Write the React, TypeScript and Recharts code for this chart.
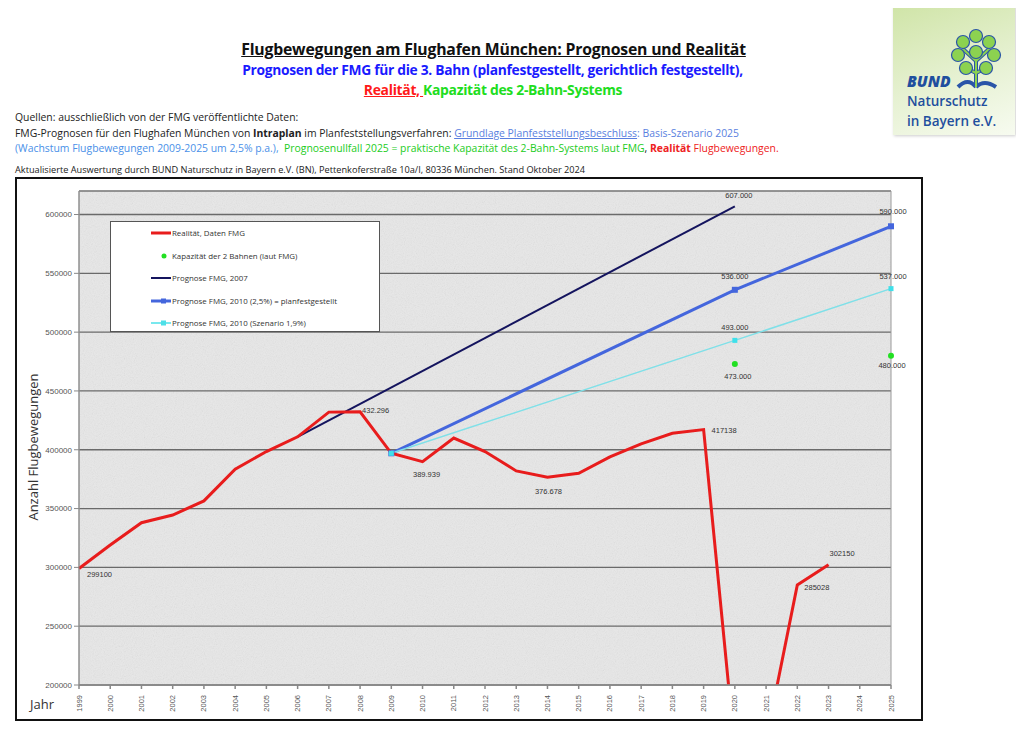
import React from "react";
import {
  LineChart,
  Line,
  XAxis,
  YAxis,
  CartesianGrid,
  Legend,
  LabelList,
  ReferenceArea,
} from "recharts";

// Jahre 1999-2025
const years = [
  1999, 2000, 2001, 2002, 2003, 2004, 2005, 2006, 2007, 2008, 2009, 2010, 2011,
  2012, 2013, 2014, 2015, 2016, 2017, 2018, 2019, 2020, 2021, 2022, 2023, 2024, 2025,
];

// Realität, Daten FMG (2020/2021 liegen unter der Achse)
const realitaet = [
  299100, 319000, 338000, 344500, 356500, 383500, 398500, 411000, 432000, 432296,
  397000, 389939, 410000, 398500, 382000, 376678, 380000, 394000, 405000, 414000,
  417138, 145000, 153000, 285028, 302150, null, null,
];

const prognose2007Years = [2006, 2020];
const prognose2007 = [411000, 607000];

const prognose25Years = [2009, 2020, 2025];
const prognose25 = [397000, 536000, 590000];

const prognose19Years = [2009, 2020, 2025];
const prognose19 = [397000, 493000, 537000];

const kapazitaetYears = [2020, 2025];
const kapazitaet = [473000, 480000];

const yTicks = [200000, 250000, 300000, 350000, 400000, 450000, 500000, 550000, 600000];

// Beschriftungen an den Punkten
const realitaetLabels: Record<number, string> = {
  1999: "299100",
  2008: "432.296",
  2010: "389.939",
  2014: "376.678",
  2019: "417138",
  2022: "285028",
  2023: "302150",
};
const prognose2007Labels: Record<number, string> = { 2020: "607.000" };
const prognose25Labels: Record<number, string> = { 2020: "536.000", 2025: "590.000" };
const prognose19Labels: Record<number, string> = { 2020: "493.000", 2025: "537.000" };
const kapazitaetLabels: Record<number, string> = { 2020: "473.000", 2025: "480.000" };

const pick = (ys: number[], vals: number[], y: number) => {
  const i = ys.indexOf(y);
  return i >= 0 ? vals[i] : null;
};

const data = years.map((year, i) => ({
  year,
  realitaet: realitaet[i],
  p2007: pick(prognose2007Years, prognose2007, year),
  p25: pick(prognose25Years, prognose25, year),
  p19: pick(prognose19Years, prognose19, year),
  kap: pick(kapazitaetYears, kapazitaet, year),
}));

// Position der Werte relativ zum Punkt: [dx, dy, anchor]
const labelPos: Record<string, [number, number, string]> = {
  "realitaet-1999": [8, 6, "start"],
  "realitaet-2008": [2, -1, "start"],
  "realitaet-2010": [4, 13, "middle"],
  "realitaet-2014": [1, 14, "middle"],
  "realitaet-2019": [8, 1, "start"],
  "realitaet-2022": [7, 3, "start"],
  "realitaet-2023": [1, -11, "start"],
  "p2007-2020": [4, -11, "middle"],
  "p25-2020": [0, -13, "middle"],
  "p25-2025": [2, -15, "middle"],
  "p19-2020": [0, -13, "middle"],
  "p19-2025": [2, -12, "middle"],
  "kap-2020": [3, 13, "middle"],
  "kap-2025": [1, 10, "middle"],
};

const makeLabel = (key: string, texts: Record<number, string>) => (props: any) => {
  const { x, y, index } = props;
  const year = years[index];
  const text = texts[year];
  if (!text || x == null || y == null) return <g />;
  const [dx, dy, anchor] = labelPos[`${key}-${year}`] || [0, -8, "middle"];
  return (
    <text
      x={x + dx}
      y={y + dy}
      textAnchor={anchor as any}
      dominantBaseline="central"
      fontSize={7.5}
      fontFamily="Liberation Sans"
      fill="#333"
    >
      {text}
    </text>
  );
};

const squareDot = (color: string, size: number) => (props: any) => {
  const { cx, cy, index } = props;
  if (cx == null || cy == null || props.value == null) return <g key={index} />;
  return (
    <rect
      key={index}
      x={cx - size / 2}
      y={cy - size / 2}
      width={size}
      height={size}
      fill={color}
    />
  );
};

const roundDot = (color: string, r: number) => (props: any) => {
  const { cx, cy, index } = props;
  if (cx == null || cy == null || props.value == null) return <g key={index} />;
  return <circle key={index} cx={cx} cy={cy} r={r} fill={color} />;
};

const YearTick = (props: any) => {
  const { x, y, payload } = props;
  return (
    <text
      x={x}
      y={y + 4}
      transform={`rotate(-90 ${x} ${y + 4})`}
      textAnchor="end"
      dominantBaseline="central"
      fontSize={7.5}
      fontFamily="Liberation Sans"
      fill="#555"
    >
      {payload.value}
    </text>
  );
};

const legendItems = [
  { text: "Realität, Daten FMG", color: "#e81c1c", width: 3, marker: "none" },
  { text: "Kapazität der 2 Bahnen (laut FMG)", color: "#22e022", width: 0, marker: "dot" },
  { text: "Prognose FMG, 2007", color: "#14145e", width: 2, marker: "none" },
  { text: "Prognose FMG, 2010 (2,5%) = planfestgestellt", color: "#4466dd", width: 3, marker: "square" },
  { text: "Prognose FMG, 2010 (Szenario 1,9%)", color: "#4de0e8", width: 1.5, marker: "square" },
];

function ChartLegend() {
  return (
    <div
      style={{
        width: 270,
        height: 111,
        boxSizing: "border-box",
        background: "#fff",
        border: "1px solid #555",
        position: "relative",
        fontFamily: "Open Sans",
        fontSize: 7.9,
        color: "#333",
      }}
    >
      {legendItems.map((it, i) => (
        <div
          key={it.text}
          style={{
            position: "absolute",
            left: 39,
            top: 5 + i * 22.5,
            height: 12,
            display: "flex",
            alignItems: "center",
          }}
        >
          <svg width={22} height={12}>
            {it.width > 0 && (
              <line x1={1} x2={21} y1={6} y2={6} stroke={it.color} strokeWidth={it.width} />
            )}
            {it.marker === "dot" && <circle cx={14} cy={6} r={2.5} fill={it.color} />}
            {it.marker === "square" && <rect x={11} y={3.5} width={5} height={5} fill={it.color} />}
          </svg>
          <span style={{ whiteSpace: "nowrap" }}>{it.text}</span>
        </div>
      ))}
    </div>
  );
}

function Logo() {
  const leaves = [
    [30, 9], [17, 15], [43, 15], [12, 28], [48, 28], [20, 41], [40, 41], [30, 25],
  ];
  return (
    <div
      style={{
        position: "absolute",
        left: 893,
        top: 3,
        width: 122,
        height: 132,
        background: "linear-gradient(160deg, #cfe4a6 0%, #e6f1d2 55%, #f7fbf0 100%)",
        boxShadow: "1px 1px 3px #ccc",
      }}
    >
      <svg width={62} height={64} style={{ position: "absolute", left: 53, top: 24 }}>
        <path d="M30 60 L30 20 M30 34 L17 22 M30 34 L43 22 M30 46 L20 41 M30 46 L40 41 M30 60 Q22 50 12 60 M30 60 Q38 52 50 60"
          stroke="#2a55a8" strokeWidth={4} fill="none" />
        <path d="M30 60 L30 20 M30 34 L17 22 M30 34 L43 22 M30 46 L20 41 M30 46 L40 41"
          stroke="#8cd250" strokeWidth={2} fill="none" />
        {leaves.map(([x, y], i) => (
          <circle key={i} cx={x} cy={y} r={6.5} fill="#8cd250" stroke="#2a55a8" strokeWidth={1.2} />
        ))}
      </svg>
      <div style={{ position: "absolute", left: 14, top: 68, fontFamily: "Open Sans", color: "#1f4f9e" }}>
        <div style={{ fontSize: 15.5, fontWeight: 800, fontStyle: "italic", lineHeight: "20px", height: 20 }}>BUND</div>
        <div style={{ fontSize: 13.5, fontWeight: 600, lineHeight: "20px", height: 20 }}>Naturschutz</div>
        <div style={{ fontSize: 13.5, fontWeight: 600, lineHeight: "20px", height: 20 }}>in Bayern e.V.</div>
      </div>
    </div>
  );
}

export default function App() {
  const srcStyle: React.CSSProperties = {
    position: "absolute",
    left: 15,
    fontFamily: "Open Sans",
    fontSize: 10.4,
    whiteSpace: "nowrap",
    color: "#222",
  };
  return (
    <div
      style={{
        position: "relative",
        width: 1024,
        height: 736,
        margin: -8,
        background: "#fff",
        overflow: "hidden",
        fontFamily: "Open Sans",
      }}
    >
      <div style={{ position: "absolute", left: 0, width: 987, top: 38, textAlign: "center", fontSize: 15.8, fontWeight: 700, color: "#111", textDecoration: "underline", letterSpacing: -0.2 }}>
        Flugbewegungen am Flughafen München: Prognosen und Realität
      </div>
      <div style={{ position: "absolute", left: 0, width: 985, top: 60, textAlign: "center", fontSize: 13.8, fontWeight: 700, color: "#1a1aff", letterSpacing: -0.3 }}>
        Prognosen der FMG für die 3. Bahn (planfestgestellt, gerichtlich festgestellt),
      </div>
      <div style={{ position: "absolute", left: 0, width: 986, top: 80, textAlign: "center", fontSize: 13.9, fontWeight: 700, letterSpacing: -0.3 }}>
        <span style={{ color: "#ff1a1a", textDecoration: "underline" }}>Realität, </span>
        <span style={{ color: "#20dd20" }}> Kapazität des 2-Bahn-Systems</span>
      </div>

      <div style={{ ...srcStyle, top: 110 }}>Quellen: ausschließlich von der FMG veröffentlichte Daten:</div>
      <div style={{ ...srcStyle, top: 126 }}>
        FMG-Prognosen für den Flughafen München von <b>Intraplan</b> im Planfeststellungsverfahren:{" "}
        <span style={{ color: "#5a7fe0", textDecoration: "underline" }}>Grundlage Planfeststellungsbeschluss</span>
        <span style={{ color: "#5a7fe0" }}>: Basis-Szenario 2025</span>
      </div>
      <div style={{ ...srcStyle, top: 141 }}>
        <span style={{ color: "#4a90e8" }}>(Wachstum Flugbewegungen 2009-2025 um 2,5% p.a.),</span>
        <span style={{ color: "#22cc22", whiteSpace: "pre" }}>{"  "}Prognosenullfall 2025 = praktische Kapazität des 2-Bahn-Systems laut FMG</span>
        <span style={{ color: "#111" }}>, </span>
        <span style={{ color: "#ee2222" }}><b>Realität</b> Flugbewegungen.</span>
      </div>
      <div style={{ ...srcStyle, top: 163, fontSize: 9.2 }}>
        Aktualisierte Auswertung durch BUND Naturschutz in Bayern e.V. (BN), Pettenkoferstraße 10a/I, 80336 München. Stand Oktober 2024
      </div>

      <Logo />

      {/* Rahmen */}
      <div style={{ position: "absolute", left: 15, top: 177, width: 908, height: 544, boxSizing: "border-box", border: "2px solid #111" }} />

      {/* Plot-Hintergrund mit Körnung */}
      <svg width={812} height={494} style={{ position: "absolute", left: 79, top: 191 }}>
        <filter id="grain">
          <feTurbulence type="fractalNoise" baseFrequency="0.9" numOctaves={2} stitchTiles="stitch" />
          <feColorMatrix type="saturate" values="0" />
        </filter>
        <rect width={812} height={494} fill="#e8e8e8" />
        <rect width={812} height={494} filter="url(#grain)" opacity={0.18} />
      </svg>

      <div style={{ position: "absolute", left: 15, top: 177 }}>
        <LineChart
          width={908}
          height={544}
          data={data}
          margin={{ top: 14, right: 32, bottom: 0, left: 0 }}
        >
          <CartesianGrid vertical={false} stroke="#6a6a6a" strokeWidth={1.3} />
          <ReferenceArea x1={1999} x2={2025} y1={200000} y2={620000} fill="none" stroke="#9a9a9a" strokeWidth={1} />
          <XAxis
            dataKey="year"
            type="number"
            domain={[1999, 2025]}
            ticks={years}
            interval={0}
            tick={<YearTick />}
            tickSize={4}
            height={36}
            stroke="#888"
            strokeWidth={1.5}
          />
          <YAxis
            type="number"
            domain={[200000, 620000]}
            ticks={yTicks}
            allowDataOverflow
            width={64}
            tickSize={5}
            stroke="#888"
            tick={{ fontSize: 8, fill: "#555", fontFamily: "Liberation Sans" }}
          />
          <Legend
            layout="vertical"
            align="center"
            verticalAlign="middle"
            content={() => <ChartLegend />}
            wrapperStyle={{ left: 95, top: 44, width: 270, height: 111 }}
          />
          <Line
            dataKey="p2007"
            stroke="#14145e"
            strokeWidth={2}
            dot={false}
            connectNulls
            isAnimationActive={false}
          >
            <LabelList dataKey="p2007" content={makeLabel("p2007", prognose2007Labels)} />
          </Line>
          <Line
            dataKey="p25"
            stroke="#4466dd"
            strokeWidth={3}
            dot={squareDot("#4466dd", 6)}
            connectNulls
            isAnimationActive={false}
          >
            <LabelList dataKey="p25" content={makeLabel("p25", prognose25Labels)} />
          </Line>
          <Line
            dataKey="p19"
            stroke="#7fe0e8"
            strokeWidth={1.5}
            dot={squareDot("#3fe0ea", 5)}
            connectNulls
            isAnimationActive={false}
          >
            <LabelList dataKey="p19" content={makeLabel("p19", prognose19Labels)} />
          </Line>
          <Line
            dataKey="realitaet"
            stroke="#e81c1c"
            strokeWidth={3}
            dot={false}
            isAnimationActive={false}
          >
            <LabelList dataKey="realitaet" content={makeLabel("realitaet", realitaetLabels)} />
          </Line>
          <Line
            dataKey="kap"
            stroke="none"
            dot={roundDot("#22e022", 3)}
            isAnimationActive={false}
          >
            <LabelList dataKey="kap" content={makeLabel("kap", kapazitaetLabels)} />
          </Line>
        </LineChart>
      </div>

      <div
        style={{
          position: "absolute",
          left: 33,
          top: 447,
          transform: "translate(-50%, -50%) rotate(-90deg)",
          fontSize: 13,
          color: "#333",
          whiteSpace: "nowrap",
          fontFamily: "Open Sans",
        }}
      >
        Anzahl Flugbewegungen
      </div>
      <div style={{ position: "absolute", left: 30, top: 695, fontSize: 13, color: "#333", fontFamily: "Open Sans" }}>Jahr</div>
    </div>
  );
}
